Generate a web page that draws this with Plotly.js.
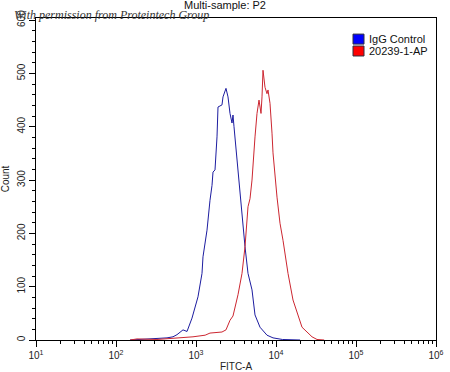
<!DOCTYPE html>
<html>
<head>
<meta charset="utf-8">
<script src="https://cdn.plot.ly/plotly-3.0.1.min.js"></script>
<style>html,body{margin:0;padding:0;background:#fff;}#chart{width:450px;height:372px;}</style>
</head>
<body>
<div id="chart"></div>
<script>
// IgG Control histogram (FITC-A value, count)
const igg_x = [150, 200, 300, 434, 516, 579, 688, 772, 891, 972, 1059, 1189, 1223, 1373, 1454, 1496, 1585, 1631, 1728, 1830, 1884, 2113, 2175, 2371, 2512, 2661, 2818, 2900, 2985, 3350, 3548, 3758, 4097, 4467, 5012, 5464, 6310, 7718, 9173, 12000, 20000];
const igg_y = [0, 1, 2, 4, 6, 10, 19, 16, 41, 60, 81, 125, 156, 206, 250, 262, 290, 315, 319, 381, 437, 441, 456, 472, 456, 425, 407, 422, 400, 319, 276, 225, 175, 125, 94, 47, 24, 9, 4, 1, 0];
// 20239-1-AP histogram
const ap_x = [150, 183, 325, 516, 688, 841, 917, 1300, 1496, 2113, 2371, 2661, 2900, 3350, 3758, 4097, 4340, 4467, 4732, 5012, 5464, 5790, 6131, 6494, 6683, 6879, 7286, 7718, 7943, 8414, 8913, 9173, 10292, 11220, 12232, 14125, 16312, 18302, 21135, 24409, 28184, 32546, 40000];
const ap_y = [0, 2, 1, 3, 5, 5, 6, 9, 13, 15, 19, 37, 45, 85, 125, 175, 219, 250, 265, 300, 381, 425, 450, 425, 456, 506, 474, 462, 469, 444, 388, 351, 268, 219, 187, 125, 75, 51, 24, 15, 6, 1, 0];
const seriesNames = ["IgG Control", "20239-1-AP"];
const legendColors = ['#0000ff', '#ff0000'];
const xMajor = [10, 100, 1000, 10000, 100000, 1000000];
const xMajorText = ["10<sup>1</sup>", "10<sup>2</sup>", "10<sup>3</sup>", "10<sup>4</sup>", "10<sup>5</sup>", "10<sup>6</sup>"];

const xMinor = [];
for (let d = 10; d < 1000000; d *= 10) for (let k = 2; k <= 9; k++) xMinor.push(d * k);

const traces = [
  {x: igg_x, y: igg_y, type: 'scatter', mode: 'lines', name: seriesNames[0], line: {color: '#1c1ca0', width: 1}, showlegend: false, hoverinfo: 'skip'},
  {x: ap_x, y: ap_y, type: 'scatter', mode: 'lines', name: seriesNames[1], line: {color: '#cc2630', width: 1}, showlegend: false, hoverinfo: 'skip'}
];

// legend drawn as shapes + annotations
const shapes = [], annotations = [];
const legY = [[0.919, 0.950], [0.882, 0.913]];
const legTextY = [0.934, 0.897];
seriesNames.forEach((n, i) => {
  shapes.push({type: 'rect', xref: 'paper', yref: 'paper', x0: 0.7925, x1: 0.82, y0: legY[i][0], y1: legY[i][1],
    fillcolor: legendColors[i], line: {color: '#303040', width: 1}});
  annotations.push({text: n, xref: 'paper', yref: 'paper', x: 0.828, y: legTextY[i], xanchor: 'left', yanchor: 'middle',
    showarrow: false, font: {size: 11, color: '#111'}});
});
annotations.push({
  text: 'With permission from Proteintech Group', xref: 'paper', yref: 'paper',
  x: -0.06, y: 1.008, xanchor: 'left', yanchor: 'middle', showarrow: false,
  font: {family: 'Liberation Serif, serif', size: 12, color: '#333', style: 'italic'}
});

const layout = {
  width: 450, height: 372,
  margin: {l: 36, r: 14, t: 18, b: 32},
  paper_bgcolor: '#fff', plot_bgcolor: '#fff',
  font: {family: 'Liberation Sans, Arial, sans-serif', size: 10, color: '#222'},
  title: {text: 'Multi-sample: P2', x: 0.5, xanchor: 'center', y: 0.997, yanchor: 'top', font: {size: 11, color: '#111'}},
  showlegend: false,
  xaxis: {
    type: 'log', range: [1, 6],
    tickmode: 'array', tickvals: xMajor, ticktext: xMajorText,
    ticks: 'outside', ticklen: 6, tickcolor: '#000', tickwidth: 1,
    minor: {tickmode: 'array', tickvals: xMinor, ticks: 'outside', ticklen: 3, tickcolor: '#000', showgrid: false},
    showline: true, linecolor: '#000', linewidth: 1, mirror: true,
    showgrid: false, zeroline: false,
    tickfont: {size: 10, color: '#222'},
    title: {text: 'FITC-A', font: {size: 10, color: '#222'}, standoff: 4}
  },
  yaxis: {
    range: [0, 604],
    tickmode: 'linear', tick0: 0, dtick: 100, tickangle: -90,
    ticks: 'outside', ticklen: 6, tickcolor: '#000', tickwidth: 1,
    minor: {dtick: 20, ticks: 'outside', ticklen: 3, tickcolor: '#000', showgrid: false},
    showline: true, linecolor: '#000', linewidth: 1, mirror: true,
    showgrid: false, zeroline: false,
    tickfont: {size: 10, color: '#222'},
    title: {text: 'Count', font: {size: 10, color: '#222'}, standoff: 4}
  },
  shapes: shapes,
  annotations: annotations
};

Plotly.newPlot('chart', traces, layout, {displayModeBar: false, staticPlot: true});
</script>
</body>
</html>
